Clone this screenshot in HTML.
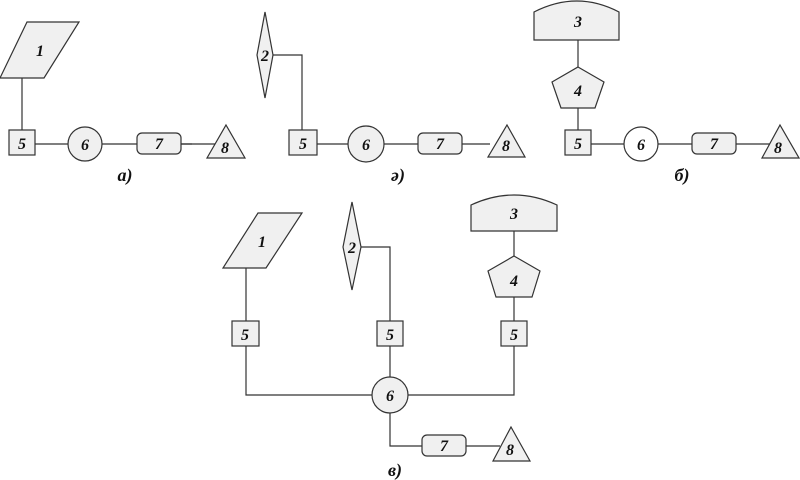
<!DOCTYPE html>
<html><head><meta charset="utf-8"><style>
html,body{margin:0;padding:0;background:#fff;}
svg{display:block;}
text{font-family:"Liberation Serif",serif;font-style:italic;font-weight:bold;font-size:16px;fill:#111;text-anchor:middle;}
.s{fill:#f0f0f0;stroke:#333;stroke-width:1.2;}
.l{fill:none;stroke:#333;stroke-width:1.2;}
.lb{font-size:18px;}
</style></head><body>
<svg width="800" height="480" viewBox="0 0 800 480" xmlns="http://www.w3.org/2000/svg">
<!-- a) -->
<line class="l" x1="22" y1="78" x2="22" y2="130"/>
<line class="l" x1="35" y1="144" x2="192" y2="144"/>
<line class="l" x1="181" y1="144" x2="215" y2="144"/>
<polygon class="s" points="27,22 79,22 44,78 0,78"/>
<text x="40" y="56">1</text>
<rect class="s" x="9" y="130" width="26" height="25"/>
<text x="22" y="149">5</text>
<circle class="s" cx="85" cy="144" r="17"/>
<text x="85" y="150">6</text>
<rect class="s" x="137" y="133" width="44" height="21" rx="5"/>
<text x="159" y="149">7</text>
<polygon class="s" points="226,125 245,158 207,158"/>
<text x="225" y="153">8</text>
<text class="lb" x="125" y="181">а)</text>

<!-- ә) -->
<polyline class="l" points="273,55 302,55 302,130"/>
<line class="l" x1="317" y1="144" x2="490" y2="144"/>
<polygon class="s" points="265,12 273,55 265,98 257,55"/>
<text x="265" y="61">2</text>
<rect class="s" x="289" y="130" width="28" height="25"/>
<text x="303" y="149">5</text>
<circle class="s" cx="366" cy="144" r="18"/>
<text x="366" y="150">6</text>
<rect class="s" x="418" y="133" width="44" height="21" rx="5"/>
<text x="440" y="149">7</text>
<polygon class="s" points="507,125 525,157 488,157"/>
<text x="506" y="151">8</text>
<text class="lb" x="398" y="181">ә)</text>

<!-- б) -->
<line class="l" x1="578" y1="40" x2="578" y2="130"/>
<line class="l" x1="591" y1="144" x2="770" y2="144"/>
<path class="s" d="M534,40 L534,12 Q577,-10 619,12 L619,40 Z"/>
<text x="578" y="27">3</text>
<polygon class="s" points="578,67 604,82 595,108 561,108 552,82"/>
<text x="578" y="96">4</text>
<rect class="s" x="565" y="130" width="26" height="25"/>
<text x="578" y="149">5</text>
<circle cx="641" cy="144" r="17" fill="#fff" stroke="#333" stroke-width="1.2"/>
<text x="641" y="150">6</text>
<rect class="s" x="692" y="133" width="44" height="21" rx="5"/>
<text x="714" y="149">7</text>
<polygon class="s" points="780,125 799,158 762,158"/>
<text x="778" y="153">8</text>
<text class="lb" x="682" y="181">б)</text>

<!-- в) -->
<polyline class="l" points="246,268 246,395 372,395"/>
<polyline class="l" points="361,247 390,247 390,377"/>
<line class="l" x1="514" y1="231" x2="514" y2="321"/>
<polyline class="l" points="514,346 514,395 408,395"/>
<polyline class="l" points="390,413 390,446 422,446"/>
<line class="l" x1="466" y1="446" x2="500" y2="446"/>
<polygon class="s" points="302,213 258,213 223,268 266,268"/>
<text x="262" y="247">1</text>
<polygon class="s" points="352,202 361,247 352,290 343,247"/>
<text x="352" y="253">2</text>
<path class="s" d="M471,231 L471,205 Q514,185 557,205 L557,231 Z"/>
<text x="514" y="219">3</text>
<polygon class="s" points="514,256 540,271 532,297 496,297 488,271"/>
<text x="514" y="286">4</text>
<rect class="s" x="232" y="321" width="27" height="25"/>
<text x="245" y="340">5</text>
<rect class="s" x="377" y="321" width="26" height="25"/>
<text x="390" y="340">5</text>
<rect class="s" x="501" y="321" width="26" height="25"/>
<text x="514" y="340">5</text>
<circle class="s" cx="390" cy="395" r="18"/>
<text x="390" y="401">6</text>
<rect class="s" x="422" y="435" width="44" height="21" rx="5"/>
<text x="444" y="451">7</text>
<polygon class="s" points="511,427 530,461 493,461"/>
<text x="510" y="455">8</text>
<text class="lb" x="395" y="476">в)</text>
</svg>
</body></html>
